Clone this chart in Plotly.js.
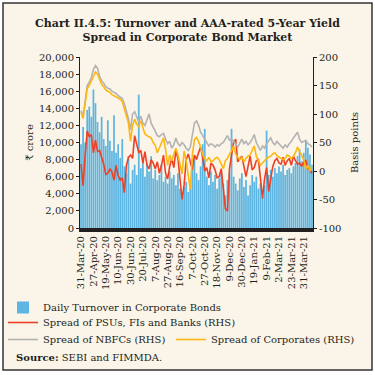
<!DOCTYPE html>
<html><head><meta charset="utf-8">
<script src="https://cdn.plot.ly/plotly-3.0.1.min.js"></script>
<style>html,body{margin:0;padding:0;background:#fff;}#chart{width:375px;height:375px;}</style>
</head><body><div id="chart"></div>
<script>
// ---- data ----
const chartTitle = 'Chart II.4.5: Turnover and AAA-rated 5-Year Yield<br>Spread in Corporate Bond Market';
const tickLabels = ['31-Mar-20','27-Apr-20','19-May-20','10-Jun-20','30-Jun-20','20-Jul-20','7-Aug-20','27-Aug-20','16-Sep-20','7-Oct-20','27-Oct-20','18-Nov-20','9-Dec-20','30-Dec-20','19-Jan-21','9-Feb-21','2-Mar-21','23-Mar-21','31-Mar-21'];
const tickStep = 6; // trading-day points between labelled dates

const turnover = [
 9800,11800,10000,13800,14200,13000,16200,14600,12400,11200,
 13000,10400,9600,12600,10200,9000,13200,8800,9800,8200,
 10400,7200,6400,8400,5200,6800,7400,6200,15600,7000,
 8200,6000,7600,6600,8400,5800,6800,5600,6200,7400,
 5400,6000,5200,6600,5800,6200,5000,6400,4600,3600,
 4800,5400,4200,5000,6800,8000,6400,5600,7200,9800,
 11600,6000,5000,6600,5400,6200,4600,5800,6800,5200,
 3800,5600,6400,11600,6000,5200,4400,5800,6400,4800,
 5600,3800,5000,6200,5400,6000,4600,5200,3600,5000,
 11400,6200,6800,6000,7000,6400,7200,6600,7400,6200,
 6800,7000,6400,7200,7600,8400,9200,7800,8800,10200,
 9400,8600,7400];

const spreadPSU = [
 12,-26,28,70,60,64,32,54,34,36,
 24,12,-6,-4,4,-2,-16,10,-8,-16,
 -12,-38,10,24,28,22,62,46,32,36,
 14,34,10,4,20,14,4,16,-4,10,
 28,-4,-14,8,22,6,36,22,-18,-50,
 -24,20,30,18,2,28,20,32,42,24,
 0,6,-12,14,10,2,-12,-10,4,-30,
 -66,-70,4,28,50,56,16,22,26,8,
 -10,8,26,2,6,18,20,-12,-48,-14,
 6,-36,-10,8,18,22,14,12,24,10,
 18,22,10,26,18,12,14,8,16,18,
 6,0,-4];

const spreadNBFC = [
 106,96,122,150,156,164,178,185,180,166,
 158,154,148,145,144,140,138,136,132,130,
 127,118,104,92,72,100,104,94,86,96,
 84,80,92,100,84,78,70,62,60,64,
 66,56,48,52,40,46,58,48,44,50,
 46,40,36,42,62,84,88,80,68,62,
 56,50,44,48,46,42,46,44,48,50,
 56,62,54,56,52,48,42,50,56,48,
 52,46,50,56,64,50,44,36,44,40,
 48,54,58,50,46,52,48,44,40,46,
 42,48,52,58,64,68,56,50,52,54,
 48,46,42];

const spreadCorp = [
 103,92,118,145,150,158,168,174,170,160,
 152,148,142,140,138,134,132,130,128,126,
 122,110,96,84,52,80,91,82,78,88,
 76,65,62,60,58,50,45,32,40,50,
 58,38,10,28,18,30,40,28,12,-5,
 35,18,-8,-32,28,55,59,52,42,28,
 22,18,24,16,18,22,24,20,12,4,
 18,22,30,35,44,30,24,20,24,16,
 22,26,28,36,44,26,18,10,14,18,
 22,24,26,30,32,27,24,22,20,22,
 28,26,22,26,32,42,34,26,20,4,
 10,0,8];

const rightTicks = [-100,-50,0,50,100,150,200];
const rightTickText = ['-100','-50','0','50','100','150','200'];

// ---- chart ----
const day = turnover.map((_, i) => i);
const tickPos = tickLabels.map((_, k) => k * tickStep);
const ink = '#231f20';
const serif = '"DejaVu Serif", "Liberation Serif", serif';
const cream = '#fbf4e8';

// pixel helpers for paper-referenced items (plot area: x 80..313, y 57..228)
const PL = 80, PW = 233, PB = 228, PH = 171;
const px = x => (x - PL) / PW;
const py = y => (PB - y) / PH;

const traces = [
  {type:'bar', x:day, y:turnover, name:'Daily Turnover in Corporate Bonds',
   marker:{color:'#5db5e2', line:{width:0}}, legend:'legend'},
  {type:'scatter', mode:'lines', x:day, y:spreadPSU, yaxis:'y2', name:'Spread of PSUs, FIs and Banks (RHS)',
   line:{color:'#ec4126', width:1.6}, legend:'legend2'},
  {type:'scatter', mode:'lines', x:day, y:spreadNBFC, yaxis:'y2', name:'Spread of NBFCs (RHS)',
   line:{color:'#b3b3b3', width:1.6}, legend:'legend3'},
  {type:'scatter', mode:'lines', x:day, y:spreadCorp, yaxis:'y2', name:'Spread of Corporates (RHS)',
   line:{color:'#fdb813', width:1.6}, legend:'legend4'}
];

const legendAt = (xPix, rowY) => ({orientation:'v', x:px(xPix), y:py(rowY - 12), xanchor:'left', yanchor:'top',
  bgcolor:'rgba(0,0,0,0)', font:{size:10, color:ink}});

const layout = {
  width:375, height:375,
  margin:{l:80, r:62, t:57, b:147, autoexpand:false},
  paper_bgcolor:'#ffffff', plot_bgcolor:cream,
  font:{family:serif, size:10, color:ink},
  showlegend:true,
  title:{text:'<b>' + chartTitle + '</b>', font:{family:serif, size:11, color:ink},
    x:0.5, xref:'container', xanchor:'center', y:1 - 26.5/375, yref:'container', yanchor:'middle'},
  bargap:0.15,
  xaxis:{range:[-0.5, turnover.length - 0.5], tickmode:'array', tickvals:tickPos, ticktext:tickLabels,
    tickangle:-90, ticks:'', showline:true, linecolor:ink, linewidth:4, showgrid:false, zeroline:false,
    tickfont:{size:10, color:ink}},
  yaxis:{range:[0,20000], dtick:2000, tickformat:',d', ticks:'outside', ticklen:3, tickwidth:1, tickcolor:ink,
    showline:true, linecolor:ink, linewidth:1, showgrid:false, zeroline:false, tickfont:{size:10, color:ink},
    title:{text:'₹ crore', font:{size:10, color:ink}, standoff:3}},
  yaxis2:{overlaying:'y', side:'right', range:[-100,200], tickmode:'array', tickvals:rightTicks, ticktext:rightTickText,
    ticks:'outside', ticklen:3, tickwidth:1, tickcolor:ink, showline:true, linecolor:ink, linewidth:1,
    showgrid:false, zeroline:false, tickfont:{size:10, color:ink},
    title:{text:'Basis points', font:{size:10, color:ink}, standoff:10}},
  legend:legendAt(3, 305),
  legend2:legendAt(3, 320),
  legend3:legendAt(3, 337),
  legend4:legendAt(171, 337),
  annotations:[
    {text:'<b>Source:</b> SEBI and FIMMDA.', xref:'paper', yref:'paper', x:px(14), y:py(357),
     xanchor:'left', yanchor:'middle', showarrow:false, font:{size:10, color:ink}}],
  shapes:[{type:'rect', xref:'paper', yref:'paper', x0:px(3), x1:px(372), y0:py(370), y1:py(3),
    fillcolor:cream, line:{color:'#333333', width:1.5}, layer:'below'}]
};

Plotly.newPlot('chart', traces, layout, {displayModeBar:false, staticPlot:true});
</script>
</body></html>
